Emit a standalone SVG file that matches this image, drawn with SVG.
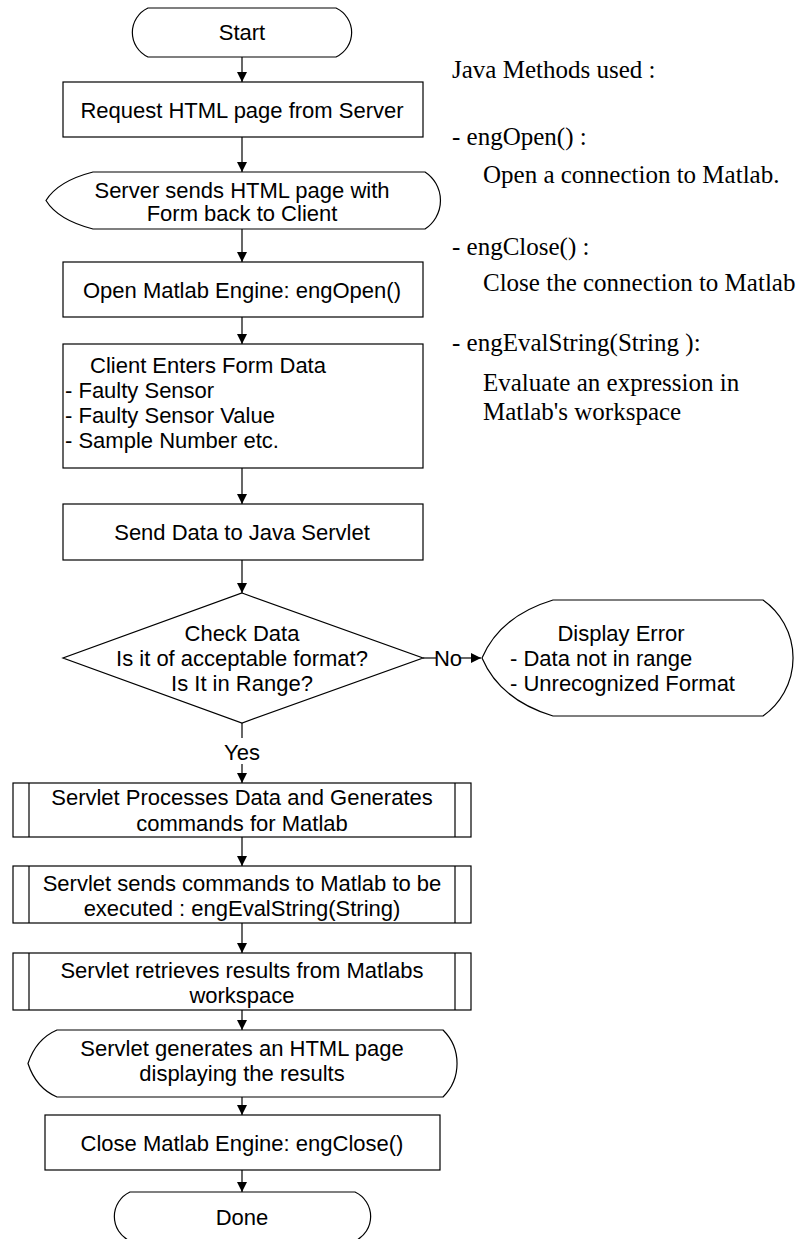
<svg xmlns="http://www.w3.org/2000/svg" width="805" height="1239" viewBox="0 0 805 1239">
<style>
.s{fill:#fff;stroke:#000;stroke-width:1.2}
.t{font-family:"Liberation Sans",Arial,sans-serif;font-size:22px;fill:#000}
.c{text-anchor:middle}
.n{font-family:"Liberation Serif","Times New Roman",serif;font-size:25px;fill:#000}
.l{fill:none;stroke:#000;stroke-width:1.2}
</style>
<defs>
<marker id="ah" markerUnits="userSpaceOnUse" markerWidth="10" markerHeight="10" refX="10" refY="5" orient="auto">
<path d="M0,0 L10,5 L0,10 Z" fill="#000"/>
</marker>
</defs>
<rect width="805" height="1239" fill="#fff"/>
<g id="connectors">
<line class="l" x1="242" y1="57" x2="242" y2="82" marker-end="url(#ah)"/>
<line class="l" x1="242" y1="137" x2="242" y2="172" marker-end="url(#ah)"/>
<line class="l" x1="242" y1="229" x2="242" y2="262" marker-end="url(#ah)"/>
<line class="l" x1="242" y1="317" x2="242" y2="344" marker-end="url(#ah)"/>
<line class="l" x1="242" y1="468" x2="242" y2="504" marker-end="url(#ah)"/>
<line class="l" x1="242" y1="560" x2="242" y2="593" marker-end="url(#ah)"/>
<line class="l" x1="423" y1="658" x2="436" y2="658"/>
<text class="t c" x="448" y="666">No</text>
<line class="l" x1="460" y1="658" x2="481" y2="658" marker-end="url(#ah)"/>
<line class="l" x1="242" y1="723" x2="242" y2="738"/>
<text class="t c" x="242" y="760">Yes</text>
<line class="l" x1="242" y1="764" x2="242" y2="783" marker-end="url(#ah)"/>
<line class="l" x1="242" y1="837" x2="242" y2="866" marker-end="url(#ah)"/>
<line class="l" x1="242" y1="923" x2="242" y2="953" marker-end="url(#ah)"/>
<line class="l" x1="242" y1="1010" x2="242" y2="1030" marker-end="url(#ah)"/>
<line class="l" x1="242" y1="1097" x2="242" y2="1115" marker-end="url(#ah)"/>
<line class="l" x1="242" y1="1170" x2="242" y2="1192" marker-end="url(#ah)"/>
</g>
<g id="start">
<path class="s" d="M148,8 H336 A27,27 0 0 1 336,57 H148 A27,27 0 0 1 148,8 Z"/>
<text class="t c" x="242" y="40">Start</text>
</g>
<g id="request">
<rect class="s" x="63" y="82" width="360" height="55"/>
<text class="t c" x="242" y="118">Request HTML page from Server</text>
</g>
<g id="server-sends">
<path class="s" d="M93,172 H425 A34,34 0 0 1 425,229 H93 Q58,220 46,200.5 Q58,181 93,172 Z"/>
<text class="t c" x="242" y="198">Server sends HTML page with</text>
<text class="t c" x="242" y="221">Form back to Client</text>
</g>
<g id="open-engine">
<rect class="s" x="63" y="262" width="360" height="55"/>
<text class="t c" x="242" y="298">Open Matlab Engine: engOpen()</text>
</g>
<g id="client-enters">
<rect class="s" x="63" y="344" width="360" height="124"/>
<text class="t" x="90" y="373">Client Enters Form Data</text>
<text class="t" x="65" y="398">- Faulty Sensor</text>
<text class="t" x="65" y="423">- Faulty Sensor Value</text>
<text class="t" x="65" y="448">- Sample Number etc.</text>
</g>
<g id="send-data">
<rect class="s" x="63" y="504" width="360" height="56"/>
<text class="t c" x="242" y="540">Send Data to Java Servlet</text>
</g>
<g id="check-data">
<path class="s" d="M242,593 L423,658 L242,723 L63,658 Z"/>
<text class="t c" x="242" y="641">Check Data</text>
<text class="t c" x="242" y="666">Is it of acceptable format?</text>
<text class="t c" x="242" y="691">Is It in Range?</text>
</g>
<g id="display-error">
<path class="s" d="M553,600 H763 A71,71 0 0 1 763,716 H553 Q500,700 482,658 Q500,616 553,600 Z"/>
<text class="t c" x="621" y="641">Display Error</text>
<text class="t" x="510" y="666">- Data not in range</text>
<text class="t" x="510" y="691">- Unrecognized Format</text>
</g>
<g id="process-data">
<rect class="s" x="13" y="783" width="458" height="54"/>
<line class="l" x1="29" y1="783" x2="29" y2="837"/>
<line class="l" x1="455" y1="783" x2="455" y2="837"/>
<text class="t c" x="242" y="805">Servlet Processes Data and Generates</text>
<text class="t c" x="242" y="831">commands for Matlab</text>
</g>
<g id="send-commands">
<rect class="s" x="13" y="866" width="458" height="57"/>
<line class="l" x1="29" y1="866" x2="29" y2="923"/>
<line class="l" x1="455" y1="866" x2="455" y2="923"/>
<text class="t c" x="242" y="891">Servlet sends commands to Matlab to be</text>
<text class="t c" x="242" y="916">executed : engEvalString(String)</text>
</g>
<g id="retrieve-results">
<rect class="s" x="13" y="953" width="458" height="57"/>
<line class="l" x1="29" y1="953" x2="29" y2="1010"/>
<line class="l" x1="455" y1="953" x2="455" y2="1010"/>
<text class="t c" x="242" y="978">Servlet retrieves results from Matlabs</text>
<text class="t c" x="242" y="1003">workspace</text>
</g>
<g id="generate-html">
<path class="s" d="M57,1030 H443 A47,47 0 0 1 443,1097 H57 Q36,1088 28,1063.5 Q36,1039 57,1030 Z"/>
<text class="t c" x="242" y="1056">Servlet generates an HTML page</text>
<text class="t c" x="242" y="1081">displaying the results</text>
</g>
<g id="close-engine">
<rect class="s" x="45" y="1115" width="395" height="55"/>
<text class="t c" x="242" y="1151">Close Matlab Engine: engClose()</text>
</g>
<g id="done">
<path class="s" d="M130,1192 H355 A27,27 0 0 1 355,1241 H130 A27,27 0 0 1 130,1192 Z"/>
<text class="t c" x="242" y="1225">Done</text>
</g>
<g id="notes">
<text class="n" x="452" y="78">Java Methods used :</text>
<text class="n" x="452" y="145">- engOpen() :</text>
<text class="n" x="483" y="183">Open a connection to Matlab.</text>
<text class="n" x="452" y="255">- engClose() :</text>
<text class="n" x="483" y="291">Close the connection to Matlab</text>
<text class="n" x="452" y="351">- engEvalString(String ):</text>
<text class="n" x="483" y="391">Evaluate an expression in</text>
<text class="n" x="483" y="420">Matlab's workspace</text>
</g>
</svg>
